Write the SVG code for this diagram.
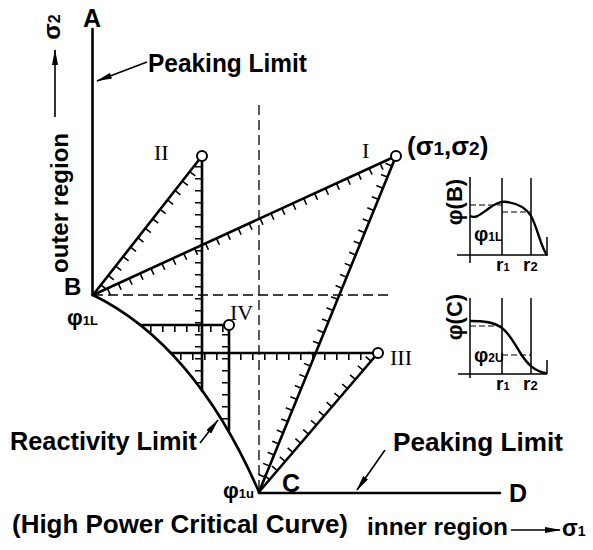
<svg xmlns="http://www.w3.org/2000/svg" width="593" height="550" viewBox="0 0 593 550">
<defs>
<style>
 .ln{stroke:#000;stroke-width:2.6;fill:none;stroke-linecap:round;stroke-linejoin:round}
 .pl{stroke:#000;stroke-width:1.5;fill:none}
 .pc{stroke:#000;stroke-width:2.4;fill:none}
 .tk{stroke:#000;stroke-width:7;stroke-dasharray:1.6 10.4;fill:none}
 .dash{stroke:#000;stroke-width:1.3;stroke-dasharray:10 5;fill:none}
 .pdash{stroke:#000;stroke-width:1.2;stroke-dasharray:6 3;fill:none}
 .pt{fill:#fff;stroke:#000;stroke-width:2}
 .ar{stroke:#000;stroke-width:1.6;fill:none;marker-end:url(#ah)}
 text{font-family:"Liberation Sans",Arial,sans-serif;font-weight:bold;fill:#000}
 .rom{font-family:"Liberation Serif","Times New Roman",serif;font-weight:normal;font-size:22px}
</style>
<marker id="ah" markerWidth="16" markerHeight="6" refX="15" refY="3" orient="auto" markerUnits="userSpaceOnUse"><path d="M0,0 L16,3 L0,6 z" fill="#000"/></marker>
</defs>

<g id="guides">
 <path class="dash" d="M259,105 L259,490"/>
 <path class="dash" d="M93,295 L392,295"/>
</g>

<g id="boundary">
 <path id="peaking-outer" class="ln" d="M92.5,29 L92.5,295"/>
 <path id="reactivity-curve" class="ln" d="M93,295 Q195,345 259,492"/>
 <path id="peaking-inner" class="ln" d="M259,493 L500,493"/>
</g>

<g id="case-II">
 <path class="ln" d="M93,295 L202,156 L202,391"/>
 <line class="tk" x1="12" y1="3.5" x2="168" y2="3.5" transform="translate(93 295) rotate(-51.9)"/>
 <line class="tk" x1="198.5" y1="166" x2="198.5" y2="388"/>
 <circle class="pt" cx="202" cy="156" r="5"/>
 <text class="rom" x="154" y="160">II</text>
</g>

<g id="case-I">
 <path class="ln" d="M93,295 L396,156 L259,492"/>
 <line class="tk" x1="15" y1="3.5" x2="325" y2="3.5" transform="translate(93 295) rotate(-24.64)"/>
 <line class="tk" x1="10" y1="3.5" x2="352" y2="3.5" transform="translate(396 156) rotate(112.18)"/>
 <circle class="pt" cx="396" cy="156" r="5"/>
 <text class="rom" x="362" y="158">I</text>
 <text x="407" y="155" font-size="26">(σ<tspan font-size="19">1</tspan>,σ<tspan font-size="19">2</tspan>)</text>
</g>

<g id="case-IV">
 <path class="ln" d="M141,325 L229,325 L229,430"/>
 <line class="tk" x1="150" y1="328.5" x2="224" y2="328.5"/>
 <line class="tk" x1="225.5" y1="334" x2="225.5" y2="428"/>
 <circle class="pt" cx="229" cy="325" r="5"/>
 <text class="rom" x="230" y="320">IV</text>
</g>

<g id="case-III">
 <path class="ln" d="M171,353 L378,353 L259,492"/>
 <line class="tk" x1="180" y1="356.5" x2="372" y2="356.5"/>
 <line class="tk" x1="10" y1="3.5" x2="176" y2="3.5" transform="translate(378 353) rotate(130.57)"/>
 <circle class="pt" cx="378" cy="353" r="5"/>
 <text class="rom" x="390" y="365">III</text>
</g>

<g id="plot-B">
 <path class="pl" d="M470,177 L470,263 M457,255 L548,255 M502,178 L502,255 M531,178 L531,255 M547,237 L547,255"/>
 <path class="pdash" d="M470,205 L502,205 M502,212 L531,212"/>
 <path class="pc" d="M470,216 C476,219 481,214 488,209 S500,201 507,202 S525,206 531,216 S541,248 547,255"/>
 <text font-size="22" text-anchor="middle" transform="translate(462 202) rotate(-90)">φ(B)</text>
 <text x="474" y="241" font-size="20">φ<tspan font-size="12">1L</tspan></text>
 <text x="496" y="271" font-size="19">r<tspan font-size="11">1</tspan></text>
 <text x="523" y="271" font-size="19">r<tspan font-size="13">2</tspan></text>
</g>

<g id="plot-C">
 <path class="pl" d="M470,298 L470,378 M458,374 L547,374 M502,298 L502,374 M531,298 L531,374 M547,360 L547,374"/>
 <path class="pdash" d="M470,326 L502,326 M502,355 L531,355"/>
 <path class="pc" d="M470,321 C484,321 494,322 502,328 C510,334 515,345 521,354 C527,363 533,371 547,373.5"/>
 <text font-size="22" text-anchor="middle" transform="translate(462 317) rotate(-90)">φ(C)</text>
 <text x="474" y="362" font-size="20">φ<tspan font-size="12">2U</tspan></text>
 <text x="496" y="390" font-size="19">r<tspan font-size="11">1</tspan></text>
 <text x="523" y="390" font-size="19">r<tspan font-size="13">2</tspan></text>
</g>

<g id="connectors">
 <path class="ar" d="M147,62 L97,81"/>
 <path class="ar" d="M55,117 L55,50"/>
 <path class="ar" d="M200,443 L218,420"/>
 <path class="ar" d="M385,450 L357,490"/>
 <path class="ar" d="M511,530 L560,530"/>
</g>

<g id="labels">
 <text x="83" y="27" font-size="25">A</text>
 <text x="64" y="295" font-size="24">B</text>
 <text x="282" y="492" font-size="25">C</text>
 <text x="509" y="502" font-size="25">D</text>
 <text font-size="24" text-anchor="middle" transform="translate(60 27) rotate(-90)">σ<tspan font-size="16">2</tspan></text>
 <text font-size="24" text-anchor="middle" textLength="140" lengthAdjust="spacingAndGlyphs" transform="translate(68 203) rotate(-90)">outer region</text>
 <text x="67" y="325" font-size="22">φ<tspan font-size="13">1L</tspan></text>
 <text x="223" y="498" font-size="22">φ<tspan font-size="13">1u</tspan></text>
 <text x="148" y="72" font-size="25" textLength="159" lengthAdjust="spacingAndGlyphs">Peaking Limit</text>
 <text x="393" y="451" font-size="25" textLength="170" lengthAdjust="spacingAndGlyphs">Peaking Limit</text>
 <text x="10" y="450" font-size="25" textLength="187" lengthAdjust="spacingAndGlyphs">Reactivity Limit</text>
 <text x="12" y="533" font-size="25" textLength="336" lengthAdjust="spacingAndGlyphs">(High Power Critical Curve)</text>
 <text x="367" y="535" font-size="24" textLength="141" lengthAdjust="spacingAndGlyphs">inner region</text>
 <text x="562" y="536" font-size="23">σ<tspan font-size="14">1</tspan></text>
</g>
</svg>
